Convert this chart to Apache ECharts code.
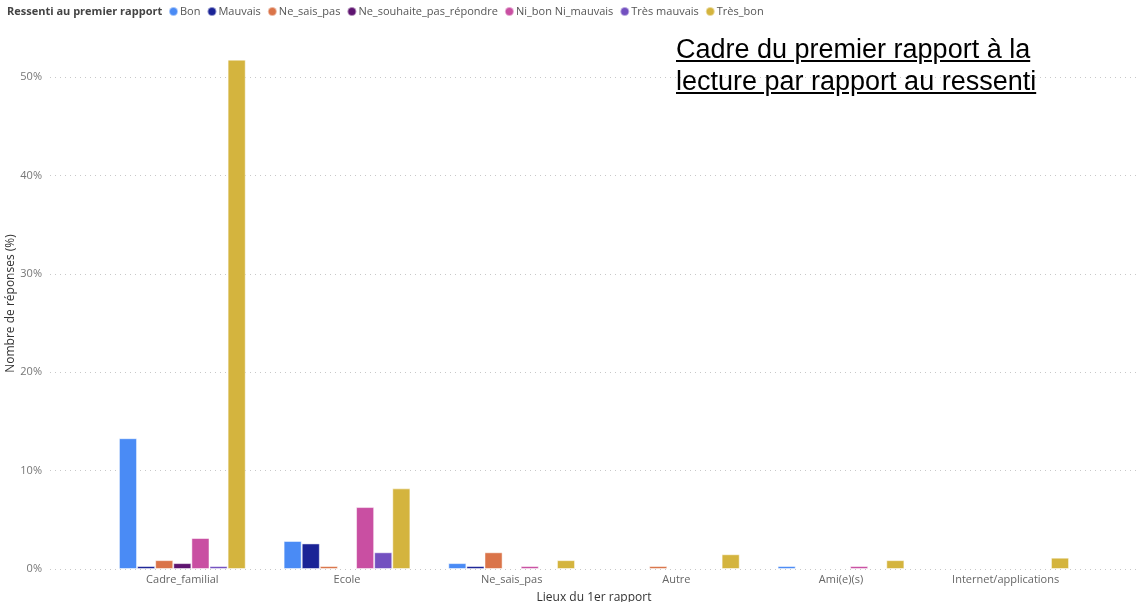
<!DOCTYPE html>
<html>
<head>
<meta charset="utf-8">
<script src="https://cdn.jsdelivr.net/npm/echarts@6/dist/echarts.min.js"></script>
<style>
  html, body { margin: 0; padding: 0; background: #fff; }
  #chart { width: 1138px; height: 602px; }
  #heading {
    position: absolute; left: 676px; top: 33px;
    font-family: "Liberation Sans", Arial, sans-serif;
    font-size: 27px; line-height: 32px; color: #000;
    text-decoration: underline;
  }
</style>
</head>
<body>
<div id="chart"></div>
<div id="heading">Cadre du premier rapport à la<br>lecture par rapport au ressenti</div>
<script>
// lieux du premier rapport
const categories = ['Cadre_familial', 'Ecole', 'Ne_sais_pas', 'Autre', 'Ami(e)(s)', 'Internet/applications'];

// % de réponses par ressenti
const bon = [13.3, 2.85, 0.6, null, 0.3, null];
const mauvais = [0.3, 2.6, 0.3, null, null, null];
const neSaisPas = [0.9, 0.3, 1.7, 0.3, null, null];
const neSouhaitePas = [0.6, null, null, null, null, null];
const niBonNiMauvais = [3.15, 6.3, 0.3, null, 0.3, null];
const tresMauvais = [0.3, 1.7, null, null, null, null];
const tresBon = [51.8, 8.2, 0.9, 1.5, 0.9, 1.15];

const yTicks = [0, 10, 20, 30, 40, 50];

const seriesDefs = [
  ['Bon', bon, '#4A8BF5'],
  ['Mauvais', mauvais, '#1A2396'],
  ['Ne_sais_pas', neSaisPas, '#DA7449'],
  ['Ne_souhaite_pas_répondre', neSouhaitePas, '#5E1470'],
  ['Ni_bon Ni_mauvais', niBonNiMauvais, '#C94FA2'],
  ['Très mauvais', tresMauvais, '#7350C0'],
  ['Très_bon', tresBon, '#D4B43E']
];

const yMax = 54;
const font = '"Open Sans", "Noto Sans", sans-serif';

const chart = echarts.init(document.getElementById('chart'));
chart.setOption({
  animation: false,
  textStyle: { fontFamily: font },
  title: {
    text: 'Ressenti au premier rapport',
    left: 2, top: 1,
    textStyle: { fontSize: 11, fontWeight: 'bold', color: '#444', fontFamily: font }
  },
  legend: {
    left: 163, top: 1,
    icon: 'circle', itemWidth: 9, itemHeight: 9, itemGap: 6,
    textStyle: { fontSize: 11, color: '#555', padding: [0, 0, 0, -3] },
    data: seriesDefs.map(d => d[0])
  },
  grid: [
    { left: 50, right: 0, top: 38, bottom: 33, outerBoundsMode: 'none', containLabel: false },
    { left: 100, right: 50, top: 38, bottom: 33, outerBoundsMode: 'none', containLabel: false }
  ],
  xAxis: [
    { gridIndex: 0, type: 'value', show: false, min: 0, max: 1 },
    {
      gridIndex: 1, type: 'category', data: categories,
      axisLine: { show: false }, axisTick: { show: false },
      axisLabel: { fontSize: 11, color: '#666', margin: 5 },
      name: 'Lieux du 1er rapport', nameLocation: 'middle', nameGap: 23, nameMoveOverlap: false,
      nameTextStyle: { fontSize: 12, color: '#333' }
    }
  ],
  yAxis: [
    {
      gridIndex: 0, type: 'value', min: yTicks[0], max: yMax, interval: 10,
      axisLine: { show: false }, axisTick: { show: false },
      axisLabel: { formatter: '{value}%', fontSize: 11, color: '#777', margin: 8, showMaxLabel: false },
      splitLine: { showMaxLine: false, lineStyle: { type: [1, 4], color: '#c8c8c8' } },
      name: 'Nombre de réponses (%)', nameLocation: 'middle', nameGap: 33, nameMoveOverlap: false,
      nameTextStyle: { fontSize: 12, color: '#333' }
    },
    { gridIndex: 1, type: 'value', min: 0, max: yMax, show: false }
  ],
  series: seriesDefs.map(([name, values, color]) => ({
    name, type: 'bar', xAxisIndex: 1, yAxisIndex: 1,
    data: values, barGap: '0%', barCategoryGap: '23%',
    itemStyle: { color, borderColor: 'rgba(255,255,255,0.5)', borderWidth: 1 }
  }))
});
</script>
</body>
</html>
